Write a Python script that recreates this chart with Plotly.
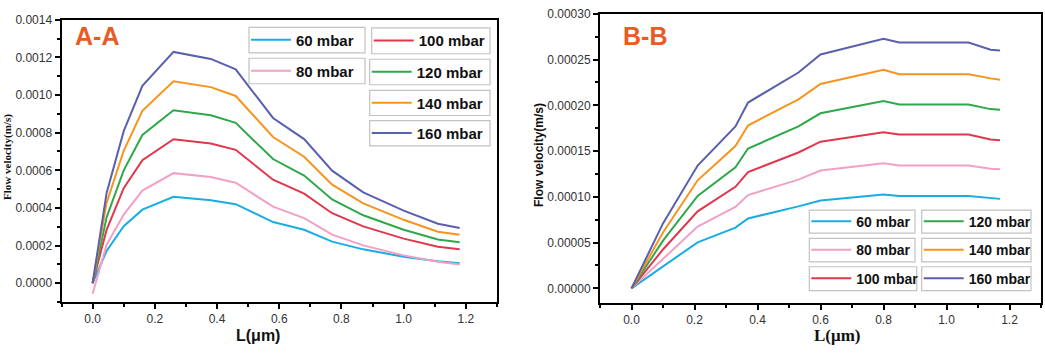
import plotly.graph_objects as go

pressures = ["60 mbar", "80 mbar", "100 mbar", "120 mbar", "140 mbar", "160 mbar"]
colors = ["#1AADE4", "#F2A0C6", "#E0374D", "#2EA84A", "#F7941E", "#5A5FAE"]

# Panel A-A
aa_L = [0, 0.045, 0.1, 0.16, 0.26, 0.38, 0.46, 0.58, 0.68, 0.77, 0.87, 1.0, 1.11, 1.18]
aa_60 = [0.0, 0.000171, 0.000303, 0.000391, 0.000459, 0.000441, 0.00042, 0.000325, 0.000284, 0.000221, 0.00018, 0.000141, 0.000117, 0.000106]
aa_80 = [-0.000056, 0.000205, 0.000365, 0.000492, 0.000585, 0.000564, 0.000534, 0.000407, 0.000346, 0.000258, 0.000201, 0.000148, 0.000114, 0.0001]
aa_100 = [0.0, 0.000284, 0.000505, 0.000654, 0.000765, 0.000742, 0.000709, 0.00055, 0.000476, 0.000372, 0.000302, 0.000237, 0.000194, 0.00018]
aa_120 = [0.0, 0.00035, 0.0006, 0.000788, 0.000919, 0.000892, 0.000852, 0.00066, 0.000572, 0.000445, 0.000361, 0.000284, 0.000232, 0.000218]
aa_140 = [0.0, 0.000428, 0.000703, 0.000916, 0.001073, 0.001042, 0.000995, 0.000777, 0.000672, 0.000524, 0.000424, 0.000337, 0.000274, 0.000257]
aa_160 = [0.0, 0.00048, 0.000808, 0.001049, 0.001229, 0.001192, 0.001136, 0.000878, 0.000766, 0.000598, 0.000483, 0.000386, 0.000316, 0.000293]

# Panel B-B
bb_L = [0, 0.1, 0.21, 0.33, 0.37, 0.53, 0.6, 0.8, 0.85, 1.07, 1.14, 1.17]
bb_60 = [0, 0.0000236, 0.0000503, 0.0000664, 0.0000764, 0.0000896, 0.000096, 0.0001025, 0.000101, 0.000101, 0.0000985, 0.0000978]
bb_80 = [0, 0.0000325, 0.0000675, 0.0000889, 0.000102, 0.0001188, 0.0001288, 0.0001367, 0.0001342, 0.0001342, 0.0001306, 0.0001303]
bb_100 = [0, 0.0000425, 0.0000842, 0.000111, 0.0001271, 0.0001485, 0.0001603, 0.0001706, 0.0001681, 0.0001681, 0.0001627, 0.000162]
bb_120 = [0, 0.0000521, 0.000101, 0.0001324, 0.0001528, 0.000177, 0.0001913, 0.0002048, 0.000201, 0.000201, 0.0001959, 0.0001952]
bb_140 = [0, 0.000061, 0.0001181, 0.0001556, 0.000178, 0.0002066, 0.0002234, 0.0002388, 0.0002341, 0.0002341, 0.0002295, 0.000228]
bb_160 = [0, 0.000071, 0.0001342, 0.000177, 0.0002031, 0.0002359, 0.0002556, 0.0002727, 0.0002687, 0.0002687, 0.0002609, 0.0002599]

aa_series = [aa_60, aa_80, aa_100, aa_120, aa_140, aa_160]
bb_series = [bb_60, bb_80, bb_100, bb_120, bb_140, bb_160]

W, H = 1045, 354
fig = go.Figure()

# legend boxes (pixels): x0, y0, x1, y1
aa_box = [(249, 20.7, 365, 46.7), (249, 52.3, 365, 78.3), (371.7, 21.3, 490, 47.7),
          (369.7, 53.3, 490, 79.3), (369.7, 85, 490, 110.7), (369.7, 116, 490, 141.7)]
bb_box = [(809.3, 207.3, 915, 230.7), (809.3, 236, 915, 260), (809.3, 265, 916.7, 289.3),
          (921.7, 207.3, 1031, 230.7), (921.7, 236, 1031, 260), (921.7, 265, 1031, 289.3)]

layout_legends = {}
shapes = []


def add_legend_box(lg, box, size):
    x0, y0, x1, y1 = box
    layout_legends[lg] = dict(x=(x0 - 3) / W, y=1 - ((y0 + y1) / 2) / H,
                              xanchor="left", yanchor="middle",
                              bgcolor="rgba(0,0,0,0)", borderwidth=0,
                              font=dict(family="Arial, Liberation Sans", size=size,
                                        color="#111", weight="bold"),
                              itemwidth=40, tracegroupgap=0)
    shapes.append(dict(type="rect", xref="paper", yref="paper",
                       x0=x0 / W, x1=x1 / W, y0=1 - y1 / H, y1=1 - y0 / H,
                       line=dict(color="#C2C2C2", width=1.2), fillcolor="white",
                       layer="above"))


for i, (name, col, ys) in enumerate(zip(pressures, colors, aa_series)):
    lg = "legend" if i == 0 else f"legend{i+1}"
    fig.add_trace(go.Scatter(x=aa_L, y=ys, mode="lines", name=name,
                             line=dict(color=col, width=2), xaxis="x", yaxis="y",
                             legend=lg))
    add_legend_box(lg, aa_box[i], 15)
for i, (name, col, ys) in enumerate(zip(pressures, colors, bb_series)):
    lg = f"legend{i+7}"
    fig.add_trace(go.Scatter(x=bb_L, y=ys, mode="lines", name=name,
                             line=dict(color=col, width=2), xaxis="x2", yaxis="y2",
                             legend=lg))
    add_legend_box(lg, bb_box[i], 14)

tickfont = dict(family="Arial, Liberation Sans", size=12, color="#333")
common_axis = dict(showgrid=False, zeroline=False, showline=True, linecolor="black",
                   linewidth=2, mirror=True, ticks="outside", ticklen=5, tickwidth=1.5,
                   tickcolor="black", tickfont=tickfont)

fig.update_layout(
    width=W, height=H, margin=dict(l=0, r=0, t=0, b=0),
    paper_bgcolor="white", plot_bgcolor="white", showlegend=True,
    xaxis=dict(domain=[61.5 / W, 497 / W], range=[-0.1, 1.3], dtick=0.2, tick0=0,
               tickformat=".1f", anchor="y",
               minor=dict(dtick=0.1, ticks="outside", ticklen=3, tickcolor="black", tickwidth=1.5),
               **common_axis),
    yaxis=dict(domain=[1 - 301 / H, 1 - 13 / H], range=[-0.0001, 0.0014], dtick=0.0002,
               tick0=0, tickformat=".4f", anchor="x",
               minor=dict(dtick=0.0001, ticks="outside", ticklen=3, tickcolor="black", tickwidth=1.5),
               **common_axis),
    xaxis2=dict(domain=[600 / W, 1041 / W], range=[-0.1, 1.3], dtick=0.2, tick0=0,
                tickformat=".1f", anchor="y2",
                minor=dict(dtick=0.1, ticks="outside", ticklen=3, tickcolor="black", tickwidth=1.5),
                **common_axis),
    yaxis2=dict(domain=[1 - 301.5 / H, 1 - 7 / H], range=[-0.0000155, 0.0003], dtick=0.00005,
                tick0=0, tickformat=".5f", anchor="x2",
                minor=dict(dtick=0.000025, ticks="outside", ticklen=3, tickcolor="black", tickwidth=1.5),
                **common_axis),
    shapes=shapes,
    **layout_legends,
)

label_color = "#EA5B24"
annotations = [
    dict(text="A-A", x=73 / W, y=1 - 30 / H, xanchor="left", yanchor="middle",
         font=dict(family="Arial, Liberation Sans", size=25, color=label_color, weight="bold")),
    dict(text="B-B", x=621 / W, y=1 - 30 / H, xanchor="left", yanchor="middle",
         font=dict(family="Arial, Liberation Sans", size=25, color=label_color, weight="bold")),
    dict(text="Flow velocity(m/s)", x=8 / W, y=1 - 153 / H, xanchor="center", yanchor="middle",
         textangle=-90,
         font=dict(family="Liberation Serif, Times New Roman", size=11, color="#111", weight="bold")),
    dict(text="Flow velocity(m/s)", x=539 / W, y=1 - 151 / H, xanchor="center", yanchor="middle",
         textangle=-90,
         font=dict(family="Arial, Liberation Sans", size=12, color="#111", weight="bold")),
    dict(text="L(μm)", x=258 / W, y=1 - 335 / H, xanchor="center", yanchor="middle",
         font=dict(family="Arial, Liberation Sans", size=16, color="#111", weight="bold")),
    dict(text="L(μm)", x=837 / W, y=1 - 335 / H, xanchor="center", yanchor="middle",
         font=dict(family="Liberation Serif, Times New Roman", size=17, color="#111", weight="bold")),
]
for a in annotations:
    a.update(xref="paper", yref="paper", showarrow=False)
fig.update_layout(annotations=annotations)

fig.write_html("out.html")
